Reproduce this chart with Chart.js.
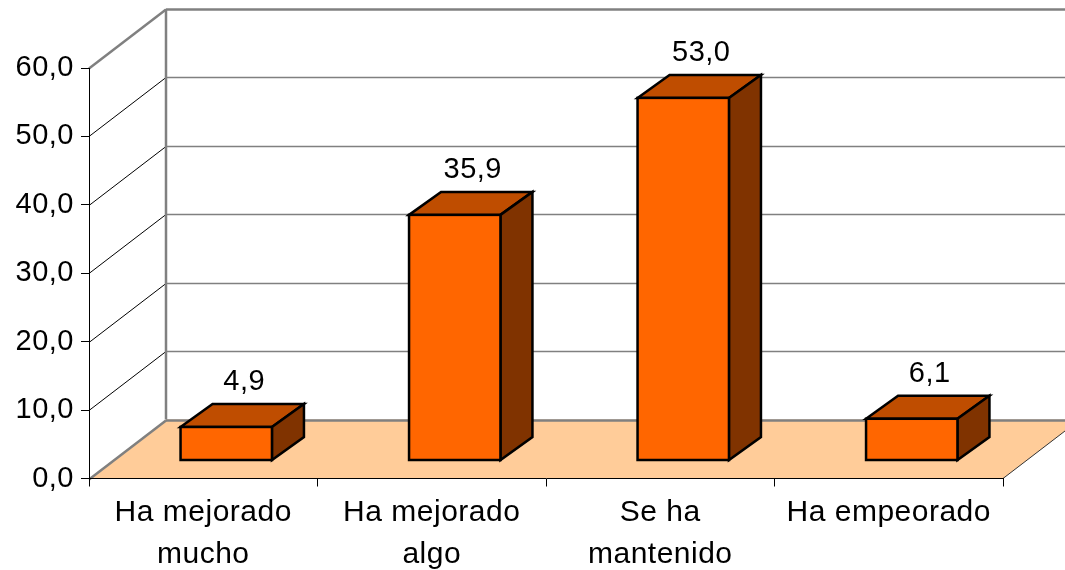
<!DOCTYPE html>
<html>
<head>
<meta charset="utf-8">
<style>
    html, body { margin: 0; padding: 0; background: #fff; }
    canvas { display: block; }
</style>
<script src="https://cdn.jsdelivr.net/npm/chart.js@4"></script>
</head>
<body>
<canvas id="chart" width="1065" height="570"></canvas>
<script>
const categories = [['Ha mejorado', 'mucho'], ['Ha mejorado', 'algo'], ['Se ha', 'mantenido'], ['Ha empeorado', '']]
const values = [4.9, 35.9, 53.0, 6.1]
const tickValues = [0, 10, 20, 30, 40, 50, 60]

// depth of the fake 3d box
const wallDx = 77, wallDy = -59
const barDx = 23, barDy = -18
const depthDx = 32, depthDy = -23

function comma(v) {
    return v.toFixed(1).replace('.', ',')
}

const fake3d = {
    id: 'fake3d',
    beforeDraw(chart) {
        const { ctx, chartArea: a, scales: { y } } = chart
        // reference text is set a bit wide
        ctx.letterSpacing = '0.5px'
        ctx.save()
        // floor
        ctx.fillStyle = '#FFCC99'
        ctx.beginPath()
        ctx.moveTo(a.left, a.bottom)
        ctx.lineTo(a.left + wallDx, a.bottom + wallDy)
        ctx.lineTo(a.right + wallDx, a.bottom + wallDy)
        ctx.lineTo(a.right, a.bottom)
        ctx.closePath()
        ctx.fill()
        ctx.strokeStyle = '#333'
        ctx.lineWidth = 1
        ctx.beginPath()
        ctx.moveTo(a.right, a.bottom)
        ctx.lineTo(a.right + wallDx, a.bottom + wallDy)
        ctx.stroke()
        // walls
        tickValues.forEach(v => {
            const py = Math.round(y.getPixelForValue(v)) + 0.5
            const outer = v === 0 || v === 60
            ctx.strokeStyle = outer ? '#808080' : '#000'
            ctx.lineWidth = outer ? 2.5 : 1
            ctx.beginPath()
            ctx.moveTo(a.left, py)
            ctx.lineTo(a.left + wallDx, py + wallDy)
            ctx.stroke()
            ctx.strokeStyle = '#808080'
            ctx.lineWidth = outer ? 2.5 : 1.5
            ctx.beginPath()
            ctx.moveTo(a.left + wallDx, py + wallDy)
            ctx.lineTo(chart.width, py + wallDy)
            ctx.stroke()
        })
        ctx.strokeStyle = '#808080'
        ctx.lineWidth = 2.5
        ctx.beginPath()
        ctx.moveTo(a.left + wallDx, a.top + wallDy)
        ctx.lineTo(a.left + wallDx, a.bottom + wallDy)
        ctx.stroke()
        ctx.restore()
    },
    beforeDatasetDraw(chart, args) {
        const ctx = chart.ctx
        ctx.save()
        ctx.translate(barDx, barDy)
        ctx.lineWidth = 2.5
        ctx.strokeStyle = '#000'
        ctx.lineJoin = 'miter'
        args.meta.data.forEach(bar => {
            const l = bar.x - bar.width / 2, r = bar.x + bar.width / 2
            const t = bar.y, b = bar.base
            ctx.fillStyle = '#BF4D00'
            ctx.beginPath()
            ctx.moveTo(l, t)
            ctx.lineTo(l + depthDx, t + depthDy)
            ctx.lineTo(r + depthDx, t + depthDy)
            ctx.lineTo(r, t)
            ctx.closePath()
            ctx.fill()
            ctx.stroke()
            ctx.fillStyle = '#803300'
            ctx.beginPath()
            ctx.moveTo(r, t)
            ctx.lineTo(r + depthDx, t + depthDy)
            ctx.lineTo(r + depthDx, b + depthDy)
            ctx.lineTo(r, b)
            ctx.closePath()
            ctx.fill()
            ctx.stroke()
        })
    },
    afterDatasetDraw(chart, args) {
        const ctx = chart.ctx
        ctx.fillStyle = '#000'
        ctx.font = '29px "Liberation Sans"'
        ctx.textAlign = 'center'
        ctx.textBaseline = 'middle'
        args.meta.data.forEach((bar, i) => {
            // outline of the front face, centred on its edge
            ctx.strokeRect(bar.x - bar.width / 2, bar.y, bar.width, bar.base - bar.y)
            ctx.fillText(comma(values[i]), bar.x + 18, bar.y + depthDy - 22)
        })
        ctx.restore()
    }
}

new Chart(document.getElementById('chart').getContext('2d'), {
    type: 'bar',
    data: {
        labels: categories,
        datasets: [{
            data: values,
            backgroundColor: '#FF6600',
            borderWidth: 0,
            barPercentage: 0.4,
            categoryPercentage: 1,
            clip: false
        }]
    },
    options: {
        responsive: false,
        animation: false,
        events: [],
        layout: { padding: { top: 68, right: 62, left: 0, bottom: 0 } },
        plugins: { legend: { display: false }, tooltip: { enabled: false } },
        scales: {
            x: {
                afterFit(scale) { scale.height = 91.5 },
                border: { color: '#000', width: 1 },
                grid: { drawOnChartArea: false, color: '#000', tickLength: 8 },
                ticks: {
                    color: '#000',
                    padding: 5,
                    maxRotation: 0,
                    font: { family: '"Liberation Sans"', size: 30, lineHeight: 1.4 }
                }
            },
            y: {
                min: 0,
                max: 60,
                afterFit(scale) { scale.width = 89 },
                border: { color: '#000', width: 1 },
                grid: { drawOnChartArea: false, color: '#000', tickLength: 8 },
                ticks: {
                    stepSize: 10,
                    color: '#000',
                    padding: 7,
                    font: { family: '"Liberation Sans"', size: 29 },
                    callback: v => comma(v)
                }
            }
        }
    },
    plugins: [fake3d]
})
</script>
</body>
</html>
